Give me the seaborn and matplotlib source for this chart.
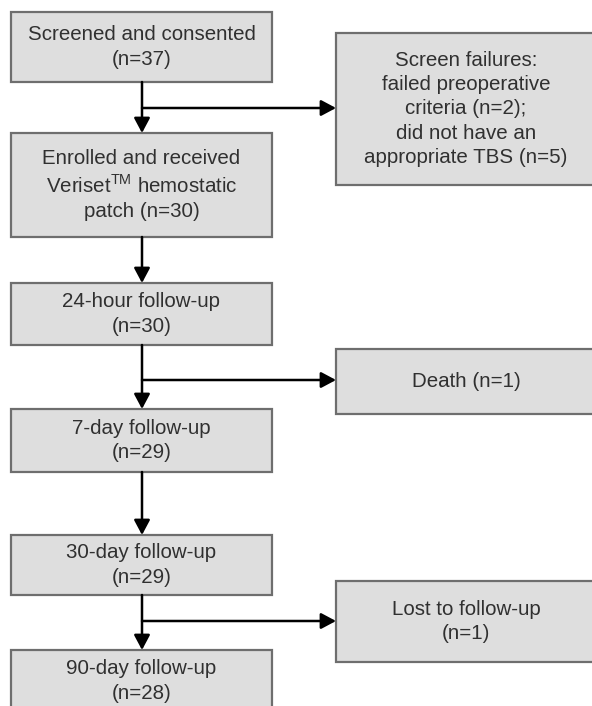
import seaborn as sns
import matplotlib.pyplot as plt
from matplotlib.patches import Rectangle

# flow stages (main column) and their counts
stages = ["Screened and consented",
          "Enrolled and received\nVeriset$^{\\mathregular{TM}}$ hemostatic\npatch",
          "24-hour follow-up",
          "7-day follow-up",
          "30-day follow-up",
          "90-day follow-up"]
stage_n = [37, 30, 30, 29, 29, 28]

# exclusions (side boxes)
exclusions = ["Screen failures:\nfailed preoperative\ncriteria (n=2);\ndid not have an\nappropriate TBS (n=5)",
              "Death (n=1)",
              "Lost to follow-up\n(n=1)"]

# layout (pixels)
main_box_y = [(12, 82), (133, 237), (283, 345), (409, 472), (535, 595), (650, 712)]
side_box_y = [(33, 185), (349, 414), (581, 662)]
branch_y = [108, 380, 621]
main_x = (11, 272)
side_x = (336, 596)
spine_x = 142

sns.set_theme(style="white")
plt.rcParams['font.family'] = ['Liberation Sans', 'DejaVu Sans']
plt.rcParams['mathtext.fontset'] = 'custom'
plt.rcParams['mathtext.rm'] = 'Liberation Sans'

fig = plt.figure(figsize=(5.92, 7.06), dpi=100)
ax = fig.add_axes([0, 0, 1, 1])
ax.set_xlim(0, 592)
ax.set_ylim(706, 0)
ax.axis("off")

face = "#dedede"
edge = "#6e6e6e"
txt = "#303030"
fs = 14.8


def box(x0, x1, y0, y1, label):
    ax.add_patch(Rectangle((x0, y0), x1 - x0, y1 - y0, facecolor=face,
                           edgecolor=edge, linewidth=1.6, zorder=2))
    ax.text((x0 + x1) / 2, (y0 + y1) / 2, label, ha="center", va="center",
            fontsize=fs, color=txt, linespacing=1.36, zorder=3)


def arrow(x0, y0, x1, y1):
    ax.annotate("", xy=(x1, y1), xytext=(x0, y0),
                arrowprops=dict(arrowstyle="-|>,head_length=0.75,head_width=0.4",
                                color="black", lw=1.8, shrinkA=0, shrinkB=0),
                zorder=4)


for i, (lab, n) in enumerate(zip(stages, stage_n)):
    y0, y1 = main_box_y[i]
    sep = " " if "\n" in lab else "\n"
    box(main_x[0], main_x[1], y0, y1, f"{lab}{sep}(n={n})")
    if i > 0:
        arrow(spine_x, main_box_y[i - 1][1], spine_x, y0)

for j, lab in enumerate(exclusions):
    y0, y1 = side_box_y[j]
    box(side_x[0], side_x[1], y0, y1, lab)
    arrow(spine_x, branch_y[j], side_x[0], branch_y[j])

fig.savefig("out.png", dpi=100)
